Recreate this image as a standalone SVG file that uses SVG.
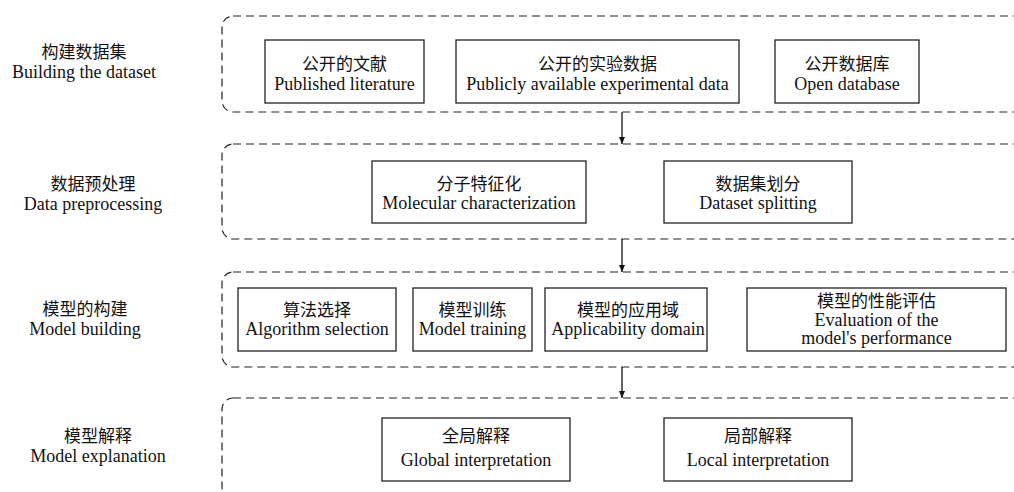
<svg xmlns="http://www.w3.org/2000/svg" width="1014" height="492" viewBox="0 0 1014 492">
<style>
text{font-family:"Liberation Serif","Noto Sans CJK SC",serif;font-size:18px;fill:#111;text-anchor:middle}
.cn{font-family:"Noto Sans CJK SC","Liberation Serif",serif;font-size:17px}
.grp{fill:none;stroke:#222;stroke-width:1.2;stroke-dasharray:8 5}
.box{fill:#fff;stroke:#222;stroke-width:1.3}
.conn{stroke:#111;stroke-width:1.3;fill:none}
</style>
<defs>
<marker id="ah" markerWidth="8" markerHeight="8" refX="7" refY="4" orient="auto" markerUnits="userSpaceOnUse">
<path d="M0,1 L7,4 L0,7 Z" fill="#111"/>
</marker>
</defs>
<rect width="1014" height="492" fill="#fff"/>

<g id="stage1">
<rect class="grp" x="222" y="16" width="810" height="96" rx="11"/>
<text x="84" y="58" class="cn">构建数据集</text>
<text x="84" y="78">Building the dataset</text>
</g>
<g id="stage2">
<rect class="grp" x="222" y="144" width="810" height="95" rx="11"/>
<text x="93" y="190" class="cn">数据预处理</text>
<text x="93" y="210">Data preprocessing</text>
</g>
<g id="stage3">
<rect class="grp" x="222" y="272" width="810" height="95" rx="11"/>
<text x="85" y="315" class="cn">模型的构建</text>
<text x="85" y="335">Model building</text>
</g>
<g id="stage4">
<rect class="grp" x="222" y="398" width="810" height="100" rx="11"/>
<text x="98" y="442" class="cn">模型解释</text>
<text x="98" y="462">Model explanation</text>
</g>

<g id="n-literature">
<rect class="box" x="265" y="40" width="159" height="63"/>
<text x="344.5" y="70" class="cn">公开的文献</text>
<text x="344.5" y="90">Published literature</text>
</g>
<g id="n-expdata">
<rect class="box" x="456" y="40" width="283" height="63"/>
<text x="597.5" y="70" class="cn">公开的实验数据</text>
<text x="597.5" y="90">Publicly available experimental data</text>
</g>
<g id="n-opendb">
<rect class="box" x="775" y="40" width="144" height="63"/>
<text x="847" y="70" class="cn">公开数据库</text>
<text x="847" y="90">Open database</text>
</g>

<g id="n-molchar">
<rect class="box" x="372" y="161" width="214" height="62"/>
<text x="479" y="190" class="cn">分子特征化</text>
<text x="479" y="209">Molecular characterization</text>
</g>
<g id="n-split">
<rect class="box" x="664" y="161" width="188" height="62"/>
<text x="758" y="190" class="cn">数据集划分</text>
<text x="758" y="209">Dataset splitting</text>
</g>

<g id="n-algo">
<rect class="box" x="238" y="288" width="158" height="63"/>
<text x="317" y="316" class="cn">算法选择</text>
<text x="317" y="335">Algorithm selection</text>
</g>
<g id="n-train">
<rect class="box" x="413" y="288" width="119" height="63"/>
<text x="472.5" y="316" class="cn">模型训练</text>
<text x="472.5" y="335">Model training</text>
</g>
<g id="n-ad">
<rect class="box" x="545" y="288" width="162" height="63"/>
<text x="628" y="316" class="cn">模型的应用域</text>
<text x="628" y="335">Applicability domain</text>
</g>
<g id="n-eval">
<rect class="box" x="747" y="288" width="259" height="63"/>
<text x="876.5" y="307" class="cn">模型的性能评估</text>
<text x="876.5" y="326">Evaluation of the</text>
<text x="876.5" y="344">model's performance</text>
</g>

<g id="n-global">
<rect class="box" x="382" y="418" width="188" height="63"/>
<text x="476" y="442" class="cn">全局解释</text>
<text x="476" y="466">Global interpretation</text>
</g>
<g id="n-local">
<rect class="box" x="664" y="418" width="188" height="63"/>
<text x="758" y="442" class="cn">局部解释</text>
<text x="758" y="466">Local interpretation</text>
</g>

<g id="connectors">
<line class="conn" x1="622" y1="112" x2="622" y2="144" marker-end="url(#ah)"/>
<line class="conn" x1="622" y1="239" x2="622" y2="272" marker-end="url(#ah)"/>
<line class="conn" x1="622" y1="367" x2="622" y2="398" marker-end="url(#ah)"/>
</g>
</svg>
